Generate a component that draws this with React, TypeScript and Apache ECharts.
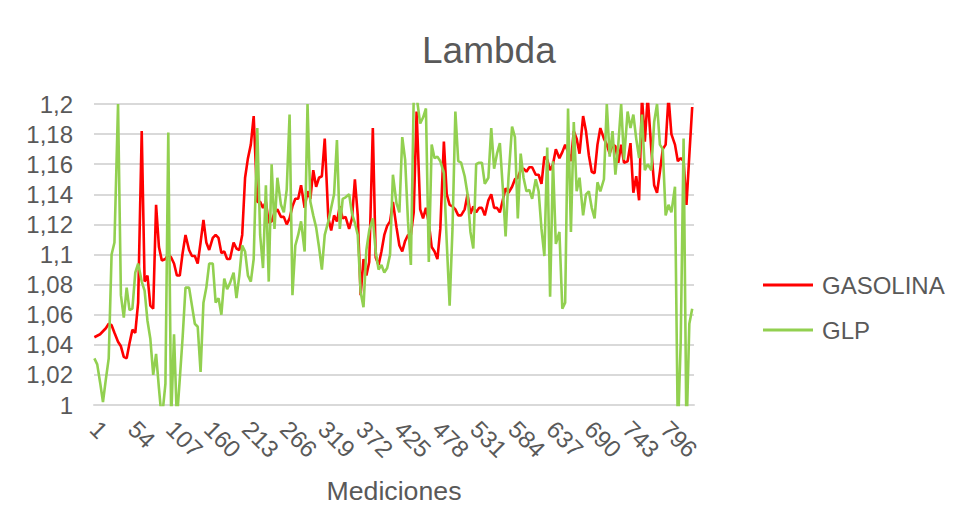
import React, { useEffect, useRef } from "react";
import * as echarts from "echarts";

// Measurement numbers on the category axis (1 .. 836)
const MEASUREMENT_COUNT = 836;
const CATEGORIES: string[] = Array.from({ length: MEASUREMENT_COUNT }, (_, i) => String(i + 1));

// Readings were taken from the picture about every 4.13 measurements
const SAMPLE_STEP = 4.128;

const GASOLINA: number[] = [
  1.045, 1.046, 1.047, 1.049, 1.051, 1.054, 1.053, 1.048, 1.042, 1.039,
  1.032, 1.031, 1.041, 1.050, 1.048, 1.068, 1.182, 1.082, 1.086, 1.066,
  1.064, 1.133, 1.105, 1.096, 1.097, 1.100, 1.098, 1.094, 1.086, 1.086,
  1.101, 1.113, 1.103, 1.099, 1.099, 1.094, 1.108, 1.123, 1.108, 1.103,
  1.111, 1.113, 1.111, 1.101, 1.102, 1.097, 1.097, 1.108, 1.104, 1.103,
  1.113, 1.151, 1.164, 1.173, 1.192, 1.135, 1.135, 1.131, 1.135, 1.121,
  1.122, 1.128, 1.130, 1.125, 1.125, 1.120, 1.124, 1.132, 1.137, 1.137,
  1.146, 1.131, 1.142, 1.137, 1.156, 1.145, 1.151, 1.152, 1.177, 1.124,
  1.116, 1.126, 1.122, 1.132, 1.124, 1.125, 1.117, 1.124, 1.150, 1.126,
  1.073, 1.097, 1.086, 1.095, 1.184, 1.098, 1.093, 1.102, 1.113, 1.119,
  1.122, 1.135, 1.118, 1.106, 1.102, 1.109, 1.113, 1.113, 1.128, 1.195,
  1.130, 1.124, 1.131, 1.121, 1.105, 1.102, 1.097, 1.117, 1.175, 1.140,
  1.133, 1.132, 1.130, 1.126, 1.126, 1.130, 1.140, 1.127, 1.132, 1.128,
  1.131, 1.131, 1.126, 1.136, 1.140, 1.131, 1.131, 1.128, 1.136, 1.144,
  1.141, 1.145, 1.150, 1.151, 1.156, 1.157, 1.155, 1.158, 1.158, 1.153,
  1.153, 1.147, 1.165, 1.163, 1.156, 1.160, 1.170, 1.164, 1.168, 1.173,
  1.168, 1.162, 1.182, 1.177, 1.167, 1.192, 1.182, 1.166, 1.155, 1.154,
  1.173, 1.184, 1.177, 1.173, 1.167, 1.173, 1.172, 1.161, 1.173, 1.161,
  1.162, 1.174, 1.141, 1.152, 1.136, 1.205, 1.175, 1.205, 1.170, 1.146,
  1.141, 1.155, 1.170, 1.173, 1.205, 1.180, 1.173, 1.162, 1.164, 1.162,
  1.133, 1.166, 1.198,
];

const GLP: number[] = [
  1.031, 1.027, 1.015, 1.002, 1.017, 1.031, 1.100, 1.108, 1.200, 1.073,
  1.058, 1.078, 1.063, 1.064, 1.088, 1.094, 1.082, 1.076, 1.056, 1.044,
  1.020, 1.034, 1.011, 0.990, 1.014, 1.181, 0.990, 1.047, 0.990, 1.017,
  1.045, 1.078, 1.078, 1.066, 1.054, 1.052, 1.022, 1.068, 1.078, 1.094,
  1.094, 1.068, 1.071, 1.060, 1.084, 1.077, 1.081, 1.088, 1.071, 1.086,
  1.106, 1.102, 1.086, 1.082, 1.097, 1.184, 1.113, 1.091, 1.146, 1.082,
  1.160, 1.117, 1.151, 1.133, 1.128, 1.143, 1.193, 1.073, 1.106, 1.113,
  1.122, 1.102, 1.200, 1.135, 1.126, 1.118, 1.105, 1.090, 1.113, 1.122,
  1.131, 1.140, 1.176, 1.117, 1.137, 1.138, 1.140, 1.127, 1.121, 1.113,
  1.075, 1.065, 1.103, 1.116, 1.124, 1.102, 1.090, 1.093, 1.088, 1.091,
  1.100, 1.153, 1.134, 1.128, 1.178, 1.163, 1.122, 1.093, 1.205, 1.205,
  1.187, 1.191, 1.197, 1.095, 1.173, 1.164, 1.165, 1.162, 1.154, 1.108,
  1.066, 1.117, 1.195, 1.162, 1.161, 1.152, 1.140, 1.115, 1.104, 1.160,
  1.161, 1.161, 1.147, 1.151, 1.184, 1.157, 1.167, 1.174, 1.145, 1.112,
  1.151, 1.185, 1.178, 1.124, 1.167, 1.151, 1.142, 1.143, 1.137, 1.150,
  1.142, 1.117, 1.099, 1.171, 1.072, 1.162, 1.107, 1.115, 1.064, 1.068,
  1.197, 1.115, 1.188, 1.142, 1.151, 1.126, 1.140, 1.142, 1.131, 1.124,
  1.148, 1.142, 1.150, 1.200, 1.165, 1.182, 1.153, 1.173, 1.200, 1.163,
  1.195, 1.184, 1.193, 1.177, 1.164, 1.193, 1.156, 1.160, 1.156, 1.188,
  1.200, 1.173, 1.170, 1.126, 1.133, 1.128, 1.145, 0.980, 1.042, 1.177,
  0.980, 1.054, 1.064,
];

const Y_MIN = 1;
const Y_MAX = 1.2;
const Y_STEP = 0.02;

const FONT = "'Liberation Sans', Arial, Helvetica, sans-serif";
const TEXT = "#595959";

function toPairs(values: number[]): [number, number][] {
  return values.map((v, i) => [Math.max(0, Math.round(i * SAMPLE_STEP - 0.5)), v]);
}

export default function App() {
  const ref = useRef<HTMLDivElement>(null);

  useEffect(() => {
    document.body.style.margin = "0";
    if (!ref.current) return;
    const chart = echarts.init(ref.current, null, { renderer: "svg" });
    chart.setOption({
      animation: false,
      backgroundColor: "#ffffff",
      textStyle: { fontFamily: FONT },
      title: {
        text: "Lambda",
        left: 422,
        top: 32,
        padding: 0,
        textStyle: { fontFamily: FONT, fontSize: 37, fontWeight: "normal", color: TEXT },
      },
      legend: {
        orient: "vertical",
        left: 763,
        top: 273,
        padding: 0,
        icon: "rect",
        itemWidth: 50,
        itemHeight: 3,
        itemGap: 21,
        textStyle: { fontFamily: FONT, fontSize: 24, color: TEXT, padding: [0, 0, 0, 4] },
        data: ["GASOLINA", "GLP"],
      },
      grid: { left: 94, right: 262, top: 104, bottom: 126, containLabel: false },
      xAxis: {
        type: "category",
        data: CATEGORIES,
        boundaryGap: true,
        name: "Mediciones",
        nameLocation: "middle",
        nameGap: 72,
        nameTextStyle: { fontFamily: FONT, fontSize: 26.7, color: TEXT },
        axisLine: { show: true, lineStyle: { color: "#d9d9d9", width: 2 } },
        axisTick: { show: false },
        axisLabel: {
          interval: 52,
          rotate: -45,
          margin: 20,
          fontFamily: FONT,
          fontSize: 24,
          color: TEXT,
        },
        splitLine: { show: false },
      },
      yAxis: {
        type: "value",
        min: Y_MIN,
        max: Y_MAX,
        interval: Y_STEP,
        axisLine: { show: false },
        axisTick: { show: false },
        axisLabel: {
          margin: 21,
          fontFamily: FONT,
          fontSize: 24,
          color: TEXT,
          formatter: (v: number) => String(+v.toFixed(2)).replace(".", ","),
        },
        splitLine: { show: true, lineStyle: { color: "#d9d9d9", width: 2 } },
      },
      series: [
        {
          name: "GASOLINA",
          type: "line",
          data: toPairs(GASOLINA),
          symbol: "none",
          clip: true,
          lineStyle: { color: "#ff0000", width: 2.6 },
          itemStyle: { color: "#ff0000" },
        },
        {
          name: "GLP",
          type: "line",
          data: toPairs(GLP),
          symbol: "none",
          clip: true,
          lineStyle: { color: "#92d050", width: 2.6 },
          itemStyle: { color: "#92d050" },
        },
      ],
    });
    return () => chart.dispose();
  }, []);

  return <div ref={ref} style={{ width: 956, height: 531 }} />;
}
